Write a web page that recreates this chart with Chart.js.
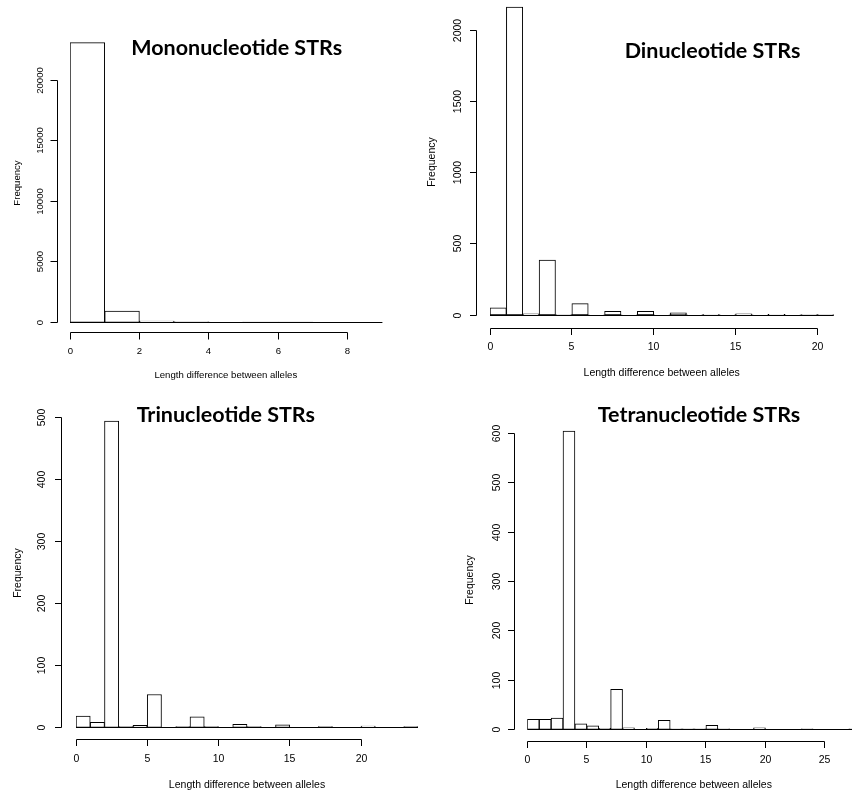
<!DOCTYPE html>
<html lang="en">
<head>
<meta charset="UTF-8">
<title>STR allele length differences</title>
<style>
  body { margin: 0; background: #fff; }
  #wrap { position: relative; width: 852px; height: 797px; overflow: hidden; background: #fff; }
  #wrap canvas { position: absolute; }
</style>
</head>
<body>
<div id="wrap">
  <canvas id="mono" width="426" height="398" style="left:0;top:0"></canvas>
  <canvas id="di" width="426" height="398" style="left:426px;top:0"></canvas>
  <canvas id="tri" width="426" height="399" style="left:0;top:398px"></canvas>
  <canvas id="tetra" width="426" height="399" style="left:426px;top:398px"></canvas>
</div>
<script src="https://cdn.jsdelivr.net/npm/chart.js"></script>
<script>
// counts per 1 bp bin, first bin is [0,1)
const monoCounts  = [23110, 935, 105, 40, 20, 12, 8, 5, 4];
const diCounts    = [50, 2160, 8, 385, 3, 80, 2, 26, 2, 25, 1, 15, 1, 5, 1, 8, 1, 5, 1, 3, 3];
const triCounts   = [18, 8, 495, 1, 3, 53, 0, 1, 17, 1, 0, 5, 1, 0, 4, 0, 0, 1, 0, 0, 2, 0, 0, 1];
const tetraCounts = [20, 20, 23, 605, 11, 7, 2, 81, 3, 0, 2, 18, 1, 1, 1, 8, 1, 0, 0, 3, 0, 0, 0, 1, 0, 0, 0, 1];

// axis ticks
const monoXTicks  = [0, 2, 4, 6, 8];
const monoYTicks  = [0, 5000, 10000, 15000, 20000];
const diXTicks    = [0, 5, 10, 15, 20];
const diYTicks    = [0, 500, 1000, 1500, 2000];
const triXTicks   = [0, 5, 10, 15, 20];
const triYTicks   = [0, 100, 200, 300, 400, 500];
const tetraXTicks = [0, 5, 10, 15, 20, 25];
const tetraYTicks = [0, 100, 200, 300, 400, 500, 600];

const titles = ['Mononucleotide STRs', 'Dinucleotide STRs', 'Trinucleotide STRs', 'Tetranucleotide STRs'];
const xTitle = 'Length difference between alleles';
const yTitle = 'Frequency';

// where things go inside each canvas (px)
const panels = [
  { id: 'mono', counts: monoCounts, xt: monoXTicks, yt: monoYTicks, xMax: 9, yMax: 24000,
    area: { l: 70, r: 382.4, t: 31.9, b: 322.3 }, yAxisX: 57.7, yLabX: 40, freqX: 17, freqY: 183,
    xAxisY: 332.3, xLabY: 351.7, xTitleX: 225.8, xTitleY: 375, titleX: 236.7, titleY: 55, font: 9.6, tick: 7 },
  { id: 'di', counts: diCounts, xt: diXTicks, yt: diYTicks, xMax: 21, yMax: 2200,
    area: { l: 64, r: 407.8, t: 1.5, b: 315 }, yAxisX: 50.7, yLabX: 32, freqX: 6.5, freqY: 162,
    xAxisY: 328.3, xLabY: 346.7, xTitleX: 235.7, xTitleY: 373, titleX: 286.5, titleY: 58, font: 10.5, tick: 6.5 },
  { id: 'tri', counts: triCounts, xt: triXTicks, yt: triYTicks, xMax: 24, yMax: 510,
    area: { l: 76, r: 418, t: 13.8, b: 329.3 }, yAxisX: 61.7, yLabX: 42.5, freqX: 18, freqY: 175,
    xAxisY: 341.3, xLabY: 361.3, xTitleX: 247, xTitleY: 387.3, titleX: 225.8, titleY: 24, font: 10.5, tick: 6.5 },
  { id: 'tetra', counts: tetraCounts, xt: tetraXTicks, yt: tetraYTicks, xMax: 27.27, yMax: 620,
    area: { l: 101.3, r: 426, t: 25.8, b: 331.3 }, yAxisX: 88.3, yLabX: 71, freqX: 44, freqY: 182,
    xAxisY: 343, xLabY: 362, xTitleX: 267.8, xTitleY: 387.3, titleX: 273, titleY: 24, font: 10.5, tick: 6.5 }
];

const crisp = v => Math.round(v - 0.5) + 0.5;

// R-style axes: lines only span first..last tick, set off from the plot
function rAxes(p, title) {
  return {
    id: 'rAxes',
    afterDraw(chart) {
      const ctx = chart.ctx, xs = chart.scales.x, ys = chart.scales.y;
      ctx.save();
      ctx.strokeStyle = '#000';
      ctx.fillStyle = '#000';
      ctx.lineWidth = 1;

      // bottom edge of every bin (empty bins show as a flat line, like hist())
      const by = crisp(ys.getPixelForValue(0));
      ctx.beginPath();
      ctx.moveTo(xs.getPixelForValue(0), by);
      ctx.lineTo(Math.min(xs.getPixelForValue(p.counts.length), chart.chartArea.right), by);
      ctx.stroke();

      ctx.font = p.font + 'px "Liberation Sans", Arial, sans-serif';
      ctx.textAlign = 'center';
      ctx.textBaseline = 'middle';

      const xp = p.xt.map(v => crisp(xs.getPixelForValue(v)));
      const ay = crisp(p.xAxisY);
      ctx.beginPath();
      ctx.moveTo(xp[0], ay);
      ctx.lineTo(xp[xp.length - 1], ay);
      xp.forEach(x => { ctx.moveTo(x, ay); ctx.lineTo(x, ay + p.tick); });
      ctx.stroke();
      p.xt.forEach((v, i) => ctx.fillText(String(v), xp[i], p.xLabY));
      ctx.fillText(xTitle, p.xTitleX, p.xTitleY);

      const yp = p.yt.map(v => crisp(ys.getPixelForValue(v)));
      const ax = crisp(p.yAxisX);
      ctx.beginPath();
      ctx.moveTo(ax, yp[0]);
      ctx.lineTo(ax, yp[yp.length - 1]);
      yp.forEach(y => { ctx.moveTo(ax, y); ctx.lineTo(ax - p.tick, y); });
      ctx.stroke();
      p.yt.forEach((v, i) => {
        ctx.save();
        ctx.translate(p.yLabX, yp[i]);
        ctx.rotate(-Math.PI / 2);
        ctx.fillText(String(v), 0, 0);
        ctx.restore();
      });
      ctx.save();
      ctx.translate(p.freqX, p.freqY);
      ctx.rotate(-Math.PI / 2);
      ctx.fillText(yTitle, 0, 0);
      ctx.restore();

      ctx.font = 'bold 21.5px Lato, "Open Sans", sans-serif';
      ctx.textBaseline = 'alphabetic';
      ctx.fillText(title, p.titleX, p.titleY);
      ctx.restore();
    }
  };
}

panels.forEach((p, k) => {
  const cv = document.getElementById(p.id);
  new Chart(cv, {
    type: 'bar',
    data: {
      datasets: [{
        data: p.counts.map((c, i) => ({ x: i + 0.5, y: c })),
        backgroundColor: '#fff',
        borderColor: '#000',
        borderWidth: 1,
        borderSkipped: false,
        barPercentage: 1,
        categoryPercentage: 1
      }]
    },
    options: {
      responsive: false,
      animation: false,
      events: [],
      layout: {
        padding: { left: p.area.l, right: cv.width - p.area.r, top: p.area.t, bottom: cv.height - p.area.b }
      },
      scales: {
        x: { type: 'linear', min: 0, max: p.xMax, offset: false, display: false, ticks: { stepSize: 1 } },
        y: { min: 0, max: p.yMax, display: false }
      },
      plugins: { legend: { display: false }, tooltip: { enabled: false } }
    },
    plugins: [rAxes(p, titles[k])]
  });
});
</script>
</body>
</html>
